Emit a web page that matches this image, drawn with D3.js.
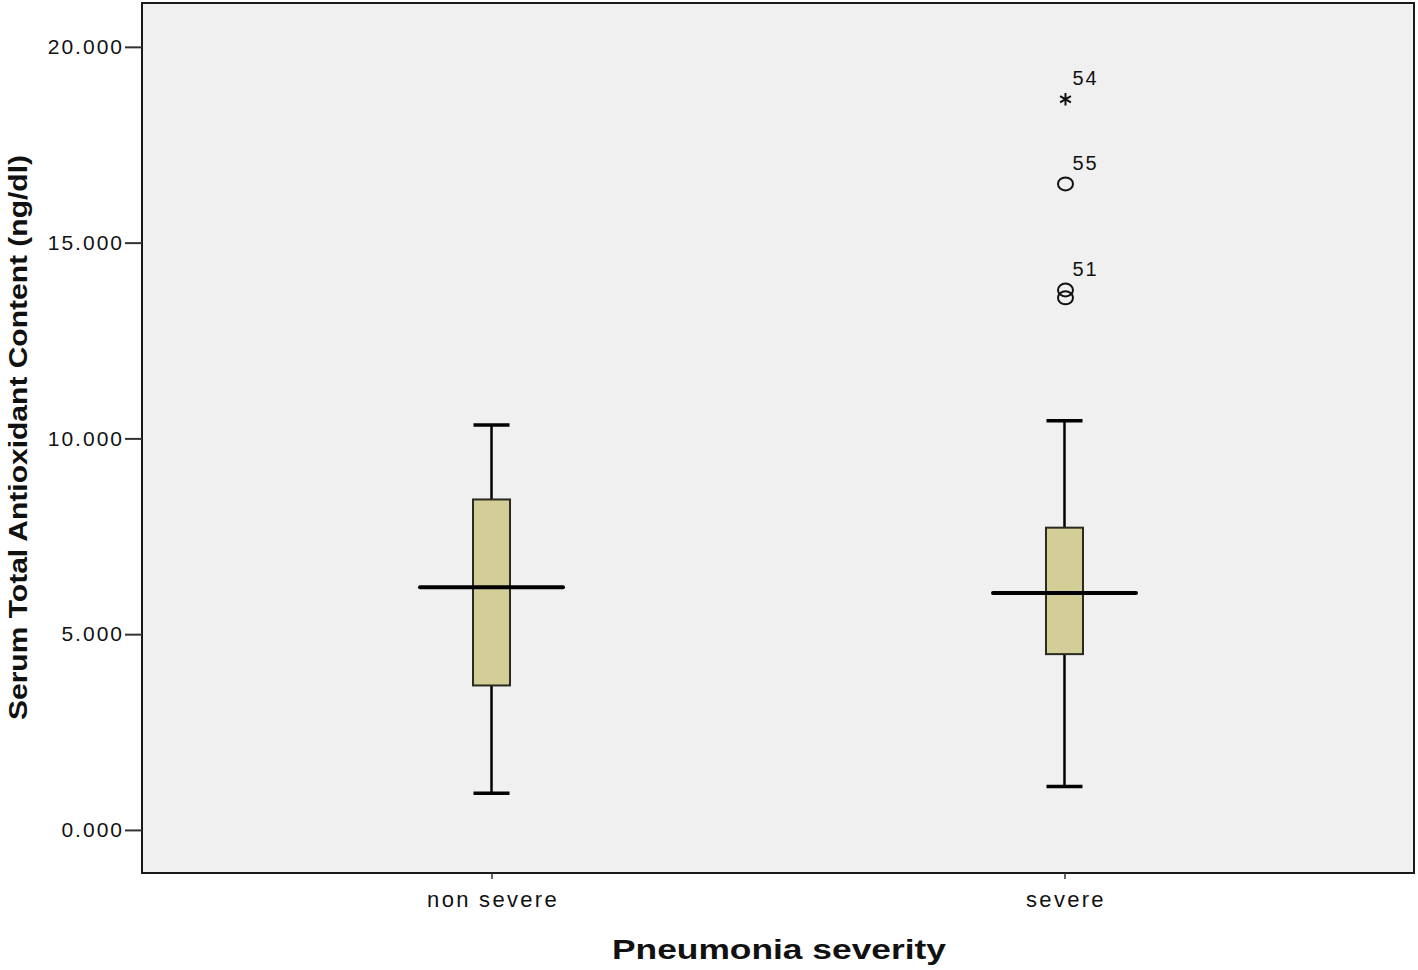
<!DOCTYPE html>
<html>
<head>
<meta charset="utf-8">
<script src="https://cdn.jsdelivr.net/npm/d3@7"></script>
<style>
  body { margin: 0; background: #fff; }
  svg { display: block; font-family: "Liberation Sans", Arial, sans-serif; }
</style>
</head>
<body>
<svg id="chart"></svg>
<script>
// box summary per category
const categories = ["non severe", "severe"];
const whiskerLow = [0.94, 1.11];
const q1 = [3.69, 4.49];
const median = [6.20, 6.05];
const q3 = [8.44, 7.72];
const whiskerHigh = [10.34, 10.45];

// outliers: category, value, case label, marker kind
const outlierCategory = ["severe", "severe", "severe", "severe"];
const outlierValue = [18.66, 16.50, 13.79, 13.59];
const outlierLabel = ["54", "55", "51", ""];
const outlierKind = ["extreme", "circle", "circle", "circle"];

const yTicks = [0, 5, 10, 15, 20];

const width = 1418, height = 970;
const frame = { left: 142, top: 3, right: 1414, bottom: 873 };

const svg = d3.select("#chart")
    .attr("width", width)
    .attr("height", height);

const x = d3.scalePoint()
    .domain(categories)
    .range([frame.left, frame.right])
    .padding(0.61);

const y = d3.scaleLinear()
    .domain([-1.1, 21.12])
    .range([frame.bottom, frame.top]);

// plot background + frame
svg.append("rect")
    .attr("x", frame.left)
    .attr("y", frame.top)
    .attr("width", frame.right - frame.left)
    .attr("height", frame.bottom - frame.top)
    .attr("fill", "#f0f0f0")
    .attr("stroke", "#1a1a1a")
    .attr("stroke-width", 2);

// y axis
const yAxis = svg.append("g")
    .attr("transform", `translate(${frame.left},0)`)
    .call(d3.axisLeft(y).tickValues(yTicks).tickFormat(d3.format(".3f")).tickSize(17).tickPadding(1));
yAxis.select(".domain").remove();
yAxis.selectAll(".tick line").attr("stroke", "#333").attr("stroke-width", 2);
yAxis.selectAll(".tick text")
    .attr("fill", "#111")
    .style("font-size", "21px")
    .style("letter-spacing", "2px");

// x axis
const xAxis = svg.append("g")
    .attr("transform", `translate(0,${frame.bottom})`)
    .call(d3.axisBottom(x).tickSize(6).tickPadding(12));
xAxis.select(".domain").remove();
xAxis.selectAll(".tick line").attr("stroke", "#333").attr("stroke-width", 1.5);
xAxis.selectAll(".tick text")
    .attr("fill", "#111")
    .attr("dx", "1px")
    .style("font-size", "22px")
    .style("letter-spacing", "2.3px");

// axis titles (the original glyphs are drawn wide, so stretch to its span)
svg.append("text")
    .attr("x", 612)
    .attr("y", 959)
    .attr("textLength", 334)
    .attr("lengthAdjust", "spacingAndGlyphs")
    .style("font-size", "28px")
    .style("font-weight", "bold")
    .attr("fill", "#111")
    .text("Pneumonia severity");

svg.append("text")
    .attr("transform", `translate(27,${(frame.top + frame.bottom) / 2}) rotate(-90)`)
    .attr("x", -282)
    .attr("textLength", 565)
    .attr("lengthAdjust", "spacingAndGlyphs")
    .style("font-size", "25px")
    .style("font-weight", "bold")
    .attr("fill", "#111")
    .text("Serum Total Antioxidant Content (ng/dl)");

// boxes
const boxW = 37, capW = 36, medW = 143;
const boxes = categories.map((c, i) => ({
    c, lo: whiskerLow[i], q1: q1[i], med: median[i], q3: q3[i], hi: whiskerHigh[i]
}));

const g = svg.append("g");
const bx = g.selectAll("g.box").data(boxes).enter().append("g").attr("class", "box");

bx.append("line")
    .attr("x1", d => x(d.c)).attr("x2", d => x(d.c))
    .attr("y1", d => y(d.hi)).attr("y2", d => y(d.q3))
    .attr("stroke", "#000").attr("stroke-width", 2.5);
bx.append("line")
    .attr("x1", d => x(d.c)).attr("x2", d => x(d.c))
    .attr("y1", d => y(d.q1)).attr("y2", d => y(d.lo))
    .attr("stroke", "#000").attr("stroke-width", 2.5);
bx.selectAll("line.cap")
    .data(d => [{ c: d.c, v: d.lo }, { c: d.c, v: d.hi }])
    .enter().append("line")
    .attr("class", "cap")
    .attr("x1", d => x(d.c) - capW / 2).attr("x2", d => x(d.c) + capW / 2)
    .attr("y1", d => y(d.v)).attr("y2", d => y(d.v))
    .attr("stroke", "#000").attr("stroke-width", 3.5);
bx.append("rect")
    .attr("x", d => x(d.c) - boxW / 2)
    .attr("width", boxW)
    .attr("y", d => y(d.q3))
    .attr("height", d => y(d.q1) - y(d.q3))
    .attr("fill", "#d3ce97")
    .attr("stroke", "#2a2a20")
    .attr("stroke-width", 2);
bx.append("line")
    .attr("x1", d => x(d.c) - medW / 2).attr("x2", d => x(d.c) + medW / 2)
    .attr("y1", d => y(d.med)).attr("y2", d => y(d.med))
    .attr("stroke", "#000").attr("stroke-width", 4)
    .attr("stroke-linecap", "round");

// outliers
const outliers = outlierValue.map((v, i) => ({
    c: outlierCategory[i], v, label: outlierLabel[i], kind: outlierKind[i]
}));

const og = g.selectAll("g.outlier").data(outliers).enter().append("g")
    .attr("class", "outlier")
    .attr("transform", d => `translate(${x(d.c) + 1},${y(d.v)})`);

og.filter(d => d.kind === "circle").append("ellipse")
    .attr("rx", 7.5).attr("ry", 6.5)
    .attr("fill", "none")
    .attr("stroke", "#111")
    .attr("stroke-width", 2);

og.filter(d => d.kind === "extreme").append("path")
    .attr("d", d3.symbol(d3.symbolAsterisk, 110)())
    .attr("fill", "none")
    .attr("stroke", "#111")
    .attr("stroke-width", 2);

og.append("text")
    .attr("x", 7)
    .attr("y", -14)
    .style("font-size", "20px")
    .style("letter-spacing", "2px")
    .attr("fill", "#111")
    .text(d => d.label);
</script>
</body>
</html>
